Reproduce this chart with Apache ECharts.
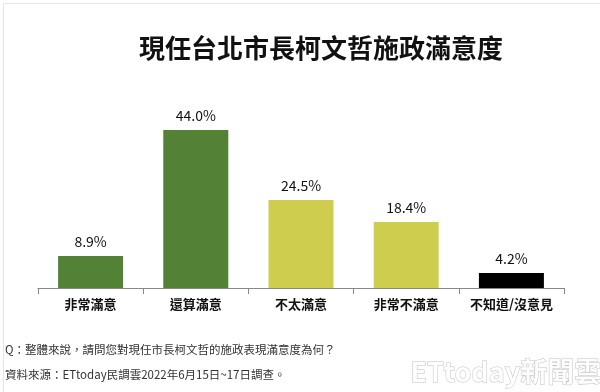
<!DOCTYPE html>
<html><head><meta charset="utf-8">
<script src="https://cdn.jsdelivr.net/npm/echarts@6/dist/echarts.min.js"></script>
<style>html,body{margin:0;padding:0;background:#fff}#c{width:600px;height:392px}</style>
</head><body><div id="c"></div>
<script>
const titleText = '現任台北市長柯文哲施政滿意度';
const categories = ['非常滿意', '還算滿意', '不太滿意', '非常不滿意', '不知道/沒意見'];
const values = [8.9, 44.0, 24.5, 18.4, 4.2];
const barColors = ['#538135', '#538135', '#cfcd4e', '#cfcd4e', '#000000'];
const footnoteQ = 'Q：整體來說，請問您對現任市長柯文哲的施政表現滿意度為何？';
const footnoteSrc = '資料來源：ETtoday民調雲2022年6月15日~17日調查。';
const watermark = 'ETtoday新聞雲';

const font = '"Noto Sans CJK TC", "Noto Sans", sans-serif';
const chart = echarts.init(document.getElementById('c'));
chart.setOption({
  backgroundColor: '#fff',
  animation: false,
  title: {
    text: titleText, left: 316, top: 30, textAlign: 'center',
    textStyle: { fontFamily: font, fontSize: 26, fontWeight: 'bold', color: '#111' }
  },
  grid: { left: 38, right: 36, top: 108.5, bottom: 104 },
  xAxis: {
    type: 'category', data: categories,
    axisLine: { lineStyle: { color: '#888', width: 1 } },
    axisTick: { show: true, length: 6, lineStyle: { color: '#888' } },
    axisLabel: { interval: 0, margin: 10, fontFamily: font, fontSize: 13, fontWeight: 'bold', color: '#111' }
  },
  yAxis: { type: 'value', min: 0, max: 50, show: false, splitLine: { show: false } },
  series: [{
    type: 'bar', barWidth: 65,
    data: values.map((v, i) => ({ value: v, itemStyle: { color: barColors[i] } })),
    label: {
      show: true, position: 'top', distance: 7,
      formatter: p => p.value.toFixed(1) + '%',
      fontFamily: font, fontSize: 14, color: '#111'
    }
  }],
  graphic: [
    { type: 'rect', left: 1, top: 1, shape: { width: 597, height: 389 }, style: { fill: 'none', stroke: '#e6e6e6', lineWidth: 1 }, silent: true },
    { type: 'text', left: 5, top: 344, style: { text: footnoteQ, font: '11.5px ' + font, fill: '#333' } },
    { type: 'text', left: 5, top: 369, style: { text: footnoteSrc, font: '11.5px ' + font, fill: '#333' } },
    { type: 'text', left: 410, top: 358, style: { text: watermark, font: 'bold 27px ' + font, fill: 'rgba(255,255,255,0.9)', stroke: '#c4c4c4', lineWidth: 1 } }
  ]
});
</script></body></html>
